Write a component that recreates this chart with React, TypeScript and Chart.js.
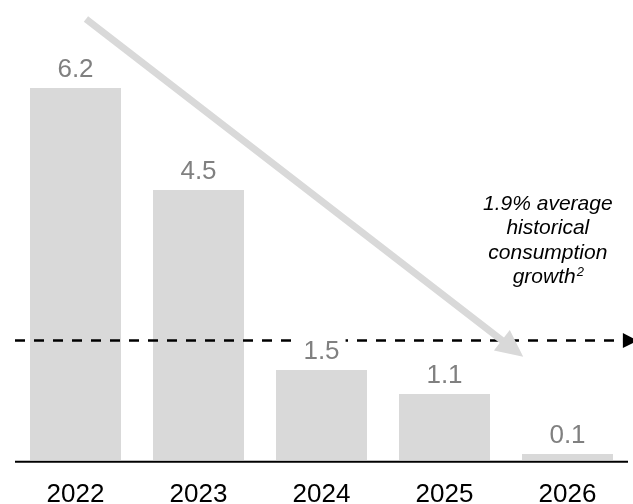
import React, { useEffect, useRef } from "react";
import { Chart, registerables } from "chart.js";

Chart.register(...registerables);

const categories: string[] = ["2022", "2023", "2024", "2025", "2026"];
const values: number[] = [6.2, 4.5, 1.5, 1.1, 0.1];
const valueLabels: string[] = ["6.2", "4.5", "1.5", "1.1", "0.1"];
const averageLevel: number = 1.99;
const annotationLines: string[] = ["1.9% average", "historical", "consumption", "growth"];
const annotationSup: string = "2";

const FONT = "'Liberation Sans', Arial, sans-serif";
const BAR = "#d9d9d9";
const LABEL = "#808080";

const overlay = {
  id: "overlay",
  afterDatasetsDraw(chart: any) {
    const ctx: CanvasRenderingContext2D = chart.ctx;
    const xs = chart.scales.x;
    const ys = chart.scales.y;
    const ca = chart.chartArea;
    const meta = chart.getDatasetMeta(0);
    ctx.save();

    // x axis line
    ctx.strokeStyle = "#000";
    ctx.lineWidth = 2;
    ctx.beginPath();
    ctx.moveTo(ca.left + 1, ca.bottom + 1.7);
    ctx.lineTo(ca.right - 1, ca.bottom + 1.7);
    ctx.stroke();

    // dashed average line
    const yAvg = ys.getPixelForValue(averageLevel);
    const xEnd = xs.getPixelForValue(4.45);
    ctx.setLineDash([10, 9]);
    ctx.lineWidth = 2.5;
    ctx.beginPath();
    ctx.moveTo(ca.left + 1, yAvg);
    ctx.lineTo(xEnd, yAvg);
    ctx.stroke();
    ctx.setLineDash([]);
    ctx.fillStyle = "#000";
    ctx.beginPath();
    ctx.moveTo(xEnd, yAvg - 7.5);
    ctx.lineTo(xEnd + 15, yAvg);
    ctx.lineTo(xEnd, yAvg + 7.5);
    ctx.closePath();
    ctx.fill();

    // value labels
    ctx.font = `26px ${FONT}`;
    ctx.textAlign = "center";
    ctx.textBaseline = "alphabetic";
    meta.data.forEach((bar: any, i: number) => {
      const t = valueLabels[i];
      const w = ctx.measureText(t).width;
      const by = bar.y - 11;
      ctx.fillStyle = "#fff";
      ctx.fillRect(bar.x - w / 2 - 6, by - 21, w + 12, 24);
      ctx.fillStyle = LABEL;
      ctx.fillText(t, bar.x, by);
    });

    // gray trend arrow
    const sx = xs.getPixelForValue(0.085);
    const sy = ys.getPixelForValue(7.35);
    const tx = xs.getPixelForValue(3.64);
    const ty = ys.getPixelForValue(1.72);
    const dx = tx - sx;
    const dy = ty - sy;
    const len = Math.hypot(dx, dy);
    const ux = dx / len;
    const uy = dy / len;
    const hl = 27;
    const hw = 13;
    const bx = tx - ux * hl;
    const byy = ty - uy * hl;
    ctx.strokeStyle = BAR;
    ctx.lineWidth = 7;
    ctx.lineCap = "butt";
    ctx.beginPath();
    ctx.moveTo(sx, sy);
    ctx.lineTo(bx + ux * 2, byy + uy * 2);
    ctx.stroke();
    ctx.fillStyle = BAR;
    ctx.beginPath();
    ctx.moveTo(tx, ty);
    ctx.lineTo(bx - uy * hw, byy + ux * hw);
    ctx.lineTo(bx + uy * hw, byy - ux * hw);
    ctx.closePath();
    ctx.fill();

    // annotation text
    const ax = xs.getPixelForValue(3.84);
    const ay = ys.getPixelForValue(4.17);
    ctx.fillStyle = "#000";
    ctx.font = `italic 21px ${FONT}`;
    annotationLines.forEach((line, i) => {
      const y = ay + i * 24.4;
      if (i === annotationLines.length - 1) {
        const w1 = ctx.measureText(line).width;
        ctx.font = `italic 13px ${FONT}`;
        const w2 = ctx.measureText(annotationSup).width;
        const left = ax - (w1 + w2) / 2;
        ctx.textAlign = "left";
        ctx.font = `italic 21px ${FONT}`;
        ctx.fillText(line, left, y);
        ctx.font = `italic 13px ${FONT}`;
        ctx.fillText(annotationSup, left + w1 + 1, y - 7);
        ctx.textAlign = "center";
        ctx.font = `italic 21px ${FONT}`;
      } else {
        ctx.fillText(line, ax, y);
      }
    });

    // category labels
    ctx.font = `26px ${FONT}`;
    ctx.fillStyle = "#000";
    ctx.textAlign = "center";
    categories.forEach((c, i) => {
      ctx.fillText(c, xs.getPixelForValue(i), ca.bottom + 42);
    });

    ctx.restore();
  },
};

export default function App() {
  const ref = useRef<HTMLCanvasElement | null>(null);
  useEffect(() => {
    if (!ref.current) return;
    const chart = new Chart(ref.current, {
      type: "bar",
      data: {
        labels: categories,
        datasets: [
          {
            data: values,
            backgroundColor: BAR,
            borderWidth: 0,
            barPercentage: 0.74,
            categoryPercentage: 1,
          },
        ],
      },
      options: {
        responsive: false,
        animation: false,
        events: [],
        layout: { padding: { left: 14, right: 4, top: 40, bottom: 44 } },
        scales: {
          x: { display: false },
          y: { display: false, min: 0, max: 7 },
        },
        plugins: { legend: { display: false }, tooltip: { enabled: false } },
      },
      plugins: [overlay],
    });
    return () => chart.destroy();
  }, []);
  return (
    <div style={{ position: "absolute", left: 0, top: 0, width: 633, height: 504, background: "#fff" }}>
      <canvas ref={ref} width={633} height={504} style={{ display: "block" }} />
    </div>
  );
}
